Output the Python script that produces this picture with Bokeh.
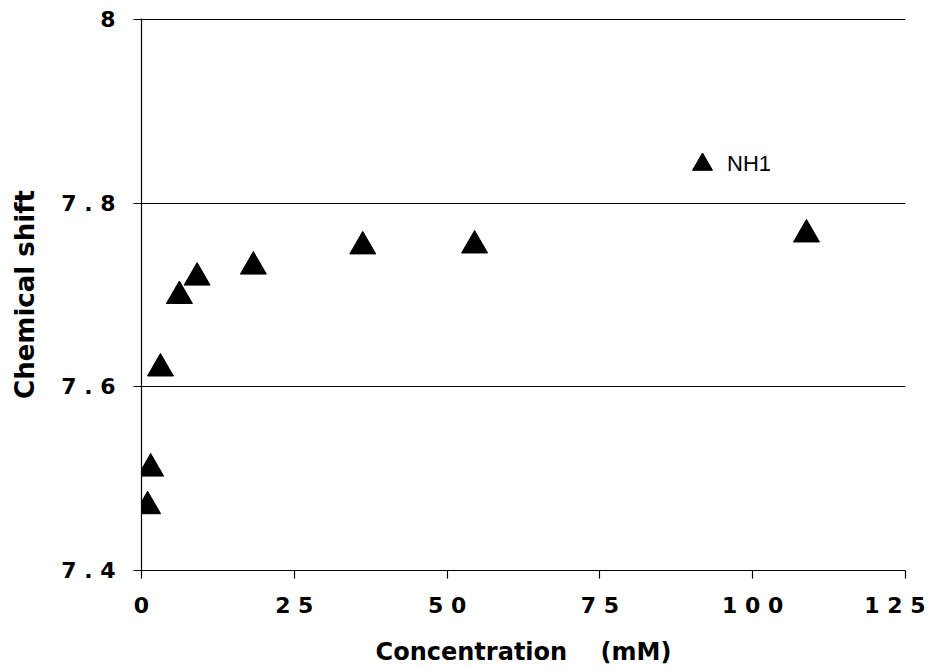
from bokeh.plotting import figure
from bokeh.models import FixedTicker, Range1d, Legend, LegendItem
from bokeh.embed import file_html
from bokeh.resources import INLINE

# data
concentration = [1.0, 1.5, 3.1, 6.2, 9.1, 18.3, 36.2, 54.5, 108.8]
shift_nh1 = [7.470, 7.511, 7.620, 7.699, 7.719, 7.731, 7.753, 7.754, 7.766]
series_name = "NH1"

x_ticks = [0, 25, 50, 75, 100, 125]
x_tick_labels = ["0", "2 5", "5 0", "7 5", "1 0 0", "1 2 5"]
y_ticks = [7.4, 7.6, 7.8, 8.0]
y_tick_labels = ["7 . 4", "7 . 6", "7 . 8", "8"]
x_title = "Concentration\u00a0\u00a0\u00a0\u00a0(mM)"
y_title = "Chemical shift"

FONT = "DejaVu Sans"

p = figure(width=925, height=668, output_backend="svg", toolbar_location=None,
           x_range=Range1d(0, 125), y_range=Range1d(7.4, 8.0012),
           min_border_left=141, min_border_right=20,
           min_border_top=18, min_border_bottom=98)
p.outline_line_color = None
p.background_fill_color = "white"
p.border_fill_color = "white"

r = p.scatter(concentration, shift_nh1, marker="triangle", size=26,
              fill_color="black", line_color="black", line_width=1)

# axes
for ax in (p.xaxis[0], p.yaxis[0]):
    ax.axis_line_color = "black"
    ax.axis_line_width = 1.2
    ax.major_tick_line_color = "black"
    ax.major_tick_line_width = 1.2
    ax.major_tick_out = 8
    ax.major_tick_in = 0
    ax.minor_tick_line_color = None
    ax.major_label_text_font = FONT
    ax.major_label_text_font_style = "bold"
    ax.major_label_text_font_size = "22px"
    ax.major_label_text_color = "black"
    ax.axis_label_text_font = FONT
    ax.axis_label_text_font_style = "bold"
    ax.axis_label_text_color = "black"

p.xaxis.ticker = FixedTicker(ticks=x_ticks)
p.xaxis.major_label_overrides = {t: l for t, l in zip(x_ticks, x_tick_labels)}
p.xaxis.major_label_standoff = 14
p.xaxis.axis_label = x_title
p.xaxis.axis_label_text_font_size = "24px"
p.xaxis.axis_label_standoff = 17

p.yaxis.ticker = FixedTicker(ticks=y_ticks)
p.yaxis.major_label_overrides = {t: l for t, l in zip(y_ticks, y_tick_labels)}
p.yaxis.major_label_standoff = 18
p.yaxis.axis_label = y_title
p.yaxis.axis_label_text_font_size = "26px"
p.yaxis.axis_label_standoff = 18

p.xgrid.grid_line_color = None
p.ygrid.ticker = FixedTicker(ticks=y_ticks[1:])
p.ygrid.grid_line_color = "black"
p.ygrid.grid_line_width = 1.2

legend = Legend(items=[LegendItem(label=series_name, renderers=[r])],
                location=(536, 381), glyph_width=50, glyph_height=50,
                label_standoff=-10, padding=0, margin=0, spacing=0,
                border_line_color=None, background_fill_alpha=0,
                label_text_font="Liberation Sans", label_text_font_size="22px",
                label_text_color="black")
p.add_layout(legend)

open("out.html", "w").write(file_html(p, INLINE))
